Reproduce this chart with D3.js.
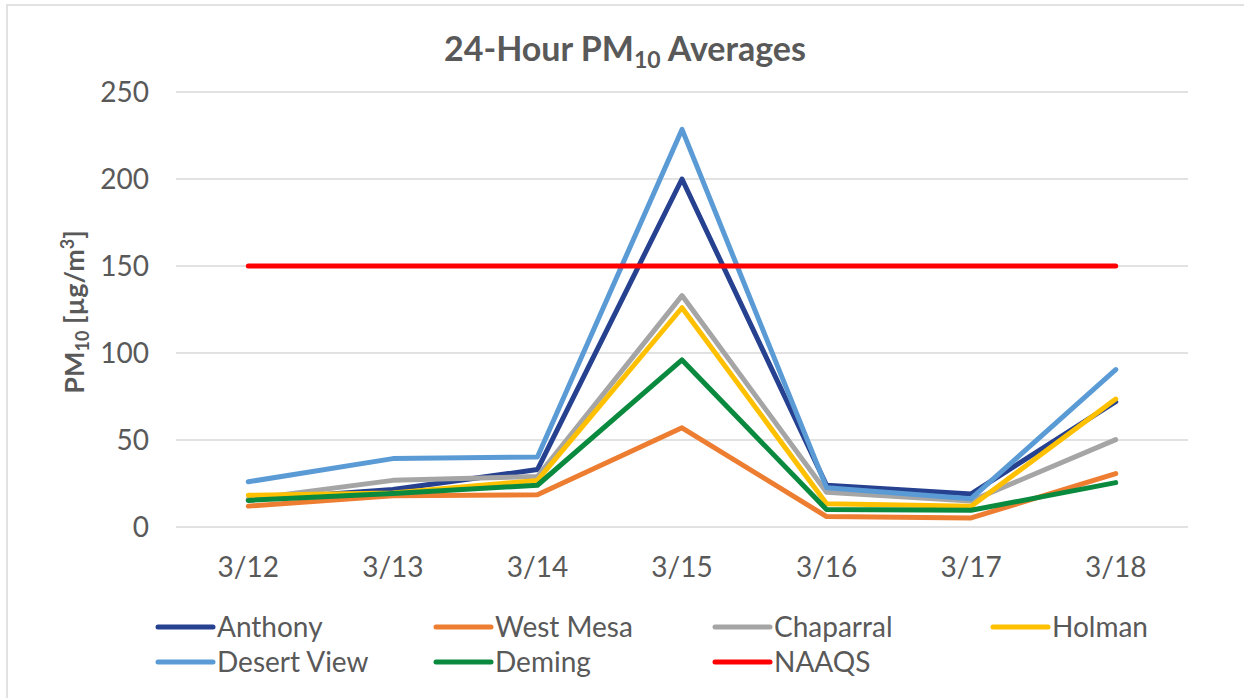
<!DOCTYPE html>
<html><head><meta charset="utf-8">
<script src="https://cdn.jsdelivr.net/npm/d3@7"></script>
<style>body{margin:0;background:#fff}svg{display:block}text{font-family:Lato,"Open Sans",sans-serif}</style>
</head><body><svg id="c" width="1244" height="698"></svg>
<script>
const categories = ["3/12","3/13","3/14","3/15","3/16","3/17","3/18"];
const seriesNames = ["Anthony","West Mesa","Chaparral","Holman","Desert View","Deming","NAAQS"];
const anthony    = [15.5, 21.5, 33, 200, 24, 19, 72];
const westMesa   = [12, 18, 18.5, 57, 6, 5.2, 30.7];
const chaparral  = [16, 26.8, 29, 133, 20, 15, 50.2];
const holman     = [18.2, 19.5, 26.8, 126, 13.4, 11.9, 73.5];
const desertView = [26, 39.3, 40.2, 228.5, 22.6, 16.3, 90.5];
const deming     = [15.3, 19.2, 24, 96, 10, 9.6, 25.5];
const naaqs      = [150, 150, 150, 150, 150, 150, 150];
const yTicks = [0, 50, 100, 150, 200, 250];
const colors = ["#26418F","#ED7D31","#A5A5A5","#FFC000","#5B9BD5","#0A8A3E","#FF0000"];
const values = [anthony, westMesa, chaparral, holman, desertView, deming, naaqs];

const svg = d3.select("#c");
const txt = "#595959";
svg.append("rect").attr("x",7).attr("y",5).attr("width",1260).attr("height",720)
  .attr("fill","none").attr("stroke","#d9d9d9").attr("stroke-width",1.5);

const x = d3.scaleBand().domain(categories).range([176,1188]);
const y = d3.scaleLinear().domain([0,250]).range([527,92]);

// grid
svg.append("g").selectAll("line").data(yTicks).join("line")
  .attr("x1",176).attr("x2",1188).attr("y1",d=>y(d)).attr("y2",d=>y(d))
  .attr("stroke","#d9d9d9").attr("stroke-width",1.5);

// y axis labels
const yAxis = svg.append("g").attr("transform","translate(176,0)")
  .call(d3.axisLeft(y).tickValues(yTicks).tickSize(0).tickPadding(27));
yAxis.select(".domain").remove();
yAxis.selectAll("text").attr("font-size",28).attr("fill",txt).attr("font-family","Lato").attr("dy","0.35em");

// x axis labels
const xAxis = svg.append("g").attr("transform","translate(0,527)")
  .call(d3.axisBottom(x).tickSize(0).tickPadding(30));
xAxis.select(".domain").remove();
xAxis.selectAll("text").attr("font-size",28).attr("fill",txt).attr("font-family","Lato").attr("dy","0.71em");

// lines
const line = d3.line().x((d,i)=>x(categories[i])+x.bandwidth()/2).y(d=>y(d));
svg.append("g").selectAll("path").data(values).join("path")
  .attr("d",d=>line(d)).attr("fill","none")
  .attr("stroke",(d,i)=>colors[i]).attr("stroke-width",5)
  .attr("stroke-linejoin","round").attr("stroke-linecap","round");

// title
const t = svg.append("text").attr("x",625).attr("y",61).attr("text-anchor","middle")
  .attr("font-size",34).attr("font-weight","bold").attr("fill",txt);
t.append("tspan").text("24-Hour PM");
t.append("tspan").text("10").attr("font-size",23).attr("dy",7);
t.append("tspan").text(" Averages").attr("dy",-7);

// y title
const yt = svg.append("text").attr("transform","translate(84,312) rotate(-90)")
  .attr("text-anchor","middle").attr("font-size",27).attr("font-weight","bold").attr("fill",txt);
yt.append("tspan").text("PM");
yt.append("tspan").text("10").attr("font-size",18).attr("dy",5);
yt.append("tspan").text(" [µg/m").attr("dy",-5);
yt.append("tspan").text("3").attr("font-size",18).attr("dy",-10);
yt.append("tspan").text("]").attr("dy",10);

// legend
const colX = [158, 436, 715, 993];
const rowY = [627, 662];
const lg = svg.append("g").selectAll("g").data(seriesNames).join("g")
  .attr("transform",(d,i)=>`translate(${colX[i%4]},${rowY[Math.floor(i/4)]})`);
lg.append("line").attr("x1",0).attr("x2",55).attr("y1",0).attr("y2",0)
  .attr("stroke",(d,i)=>colors[i]).attr("stroke-width",5).attr("stroke-linecap","round");
lg.append("text").attr("x",59).attr("y",0).attr("dy","0.36em").attr("font-size",28)
  .attr("fill",txt).text(d=>d);
</script></body></html>
